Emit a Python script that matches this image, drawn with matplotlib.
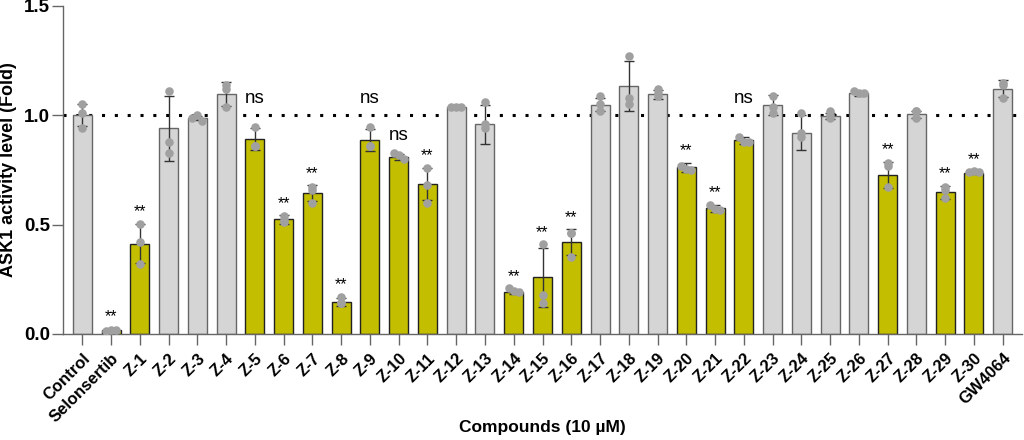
import numpy as np
import matplotlib
matplotlib.use("Agg")
from matplotlib import pyplot as plt

plt.rcParams['font.family'] = ['Liberation Sans', 'DejaVu Sans']

# compounds, bar means, SD and the three replicate points
names = ['Control', 'Selonsertib'] + ['Z-%d' % i for i in range(1, 31)] + ['GW4064']
means = [1.00, 0.02, 0.413, 0.94, 0.988, 1.097, 0.893, 0.524, 0.645, 0.146,
         0.888, 0.809, 0.686, 1.04, 0.959, 0.192, 0.259, 0.419, 1.049, 1.133,
         1.096, 0.762, 0.575, 0.886, 1.046, 0.921, 0.997, 1.10, 0.728, 1.004,
         0.648, 0.735, 1.122]
sds = [0.05, 0.005, 0.09, 0.15, 0.01, 0.055, 0.05, 0.02, 0.035, 0.02,
       0.05, 0.015, 0.075, 0.005, 0.09, 0.01, 0.135, 0.06, 0.03, 0.115,
       0.02, 0.02, 0.015, 0.015, 0.045, 0.08, 0.015, 0.01, 0.06, 0.015,
       0.03, 0.005, 0.04]
reps = [[1.05, 1.01, 0.94], [0.015, 0.02, 0.02], [0.504, 0.42, 0.32],
        [1.11, 0.88, 0.826], [0.99, 1.0, 0.975], [1.14, 1.12, 1.04],
        [0.945, 0.86, 0.86], [0.54, 0.52, 0.51], [0.67, 0.66, 0.60],
        [0.17, 0.14, 0.14], [0.945, 0.86, 0.86], [0.83, 0.82, 0.80],
        [0.76, 0.68, 0.60], [1.04, 1.04, 1.04], [1.06, 0.96, 0.94],
        [0.21, 0.195, 0.19], [0.41, 0.18, 0.14], [0.46, 0.46, 0.35],
        [1.09, 1.05, 1.02], [1.27, 1.08, 1.05], [1.12, 1.10, 1.09],
        [0.77, 0.755, 0.75], [0.59, 0.57, 0.565], [0.90, 0.88, 0.88],
        [1.09, 1.04, 1.01], [1.01, 0.92, 0.90], [1.02, 1.0, 0.99],
        [1.11, 1.10, 1.10], [0.78, 0.77, 0.67], [1.02, 1.02, 0.99],
        [0.67, 0.66, 0.62], [0.74, 0.745, 0.74], [1.15, 1.14, 1.08]]
# significance marks ('' = none)
sig = ['', '**', '**', '', '', '', 'ns', '**', '**', '**',
       'ns', 'ns', '**', '', '', '**', '**', '**', '', '',
       '', '**', '**', 'ns', '', '', '', '', '**', '',
       '**', '**', '']
treated = [False, True, True, False, False, False, True, True, True, True,
           True, True, True, False, False, True, True, True, False, False,
           False, True, True, True, False, False, False, False, True, False,
           True, True, False]

YELLOW = '#C3BE00'
GREY = '#D5D5D5'

fig = plt.figure(figsize=(10.24, 4.4), dpi=100)
ax = fig.add_axes([63 / 1024, 1 - 334 / 440, 959 / 1024, 328 / 440])

x = np.arange(len(names))
cols = [YELLOW if t else GREY for t in treated]
edges = ['#222222' if t else '#666666' for t in treated]
ax.bar(x, means, width=0.66, color=cols, edgecolor=edges, linewidth=1.0, zorder=2)
ax.errorbar(x, means, yerr=sds, fmt='none', ecolor='#333333', elinewidth=1.0,
            capsize=3.5, capthick=1.0, zorder=3)

for xi, pts in zip(x, reps):
    pts = np.array(pts)
    off = np.zeros(3)
    if pts.max() - pts.min() < 0.03:
        off = np.array([-0.17, 0.0, 0.17])
    ax.scatter(xi + off, pts, s=38, color='#A0A0A0', zorder=4, linewidths=0)

ax.axhline(1.0, color='black', linestyle=(0, (1, 3.2)), linewidth=2.2, zorder=1)

for xi, m, s, r, lab in zip(x, means, sds, reps, sig):
    if not lab:
        continue
    top = max(m + s, max(r))
    if lab == 'ns':
        ypos = max(top + 0.03, 1.04) if top > 0.85 else top + 0.04
        ax.text(xi, ypos, 'ns', ha='center', va='bottom', fontsize=13.5)
    else:
        ax.text(xi, top + 0.02, '**', ha='center', va='bottom', fontsize=11.5)

ax.set_xlim(-0.67, len(names) - 0.33)
ax.set_ylim(0, 1.5)
ax.set_yticks([0, 0.5, 1.0, 1.5])
ax.set_yticklabels(['0.0', '0.5', '1.0', '1.5'], fontsize=13.5, fontweight='bold')
ax.set_xticks(x)
ax.set_xticklabels(names, rotation=45, ha='right', rotation_mode='anchor',
                   fontsize=12, fontweight='bold')
ax.tick_params(axis='both', length=8, width=1, color='#666666', direction='out')
ax.tick_params(axis='y', pad=1.5)
ax.tick_params(axis='x', pad=4)

for side in ['top', 'right']:
    ax.spines[side].set_visible(False)
for side in ['left', 'bottom']:
    ax.spines[side].set_color('#666666')
    ax.spines[side].set_linewidth(1)

ax.set_ylabel('ASK1 activity level (Fold)', fontsize=13, fontweight='bold', va='center')
ax.yaxis.set_label_coords(-0.057, 0.5)
ax.set_xlabel('Compounds (10 µM)', fontsize=12.5, fontweight='bold', va='center')
ax.xaxis.set_label_coords(0.5, -0.285)

fig.savefig('out.png', dpi=100)
